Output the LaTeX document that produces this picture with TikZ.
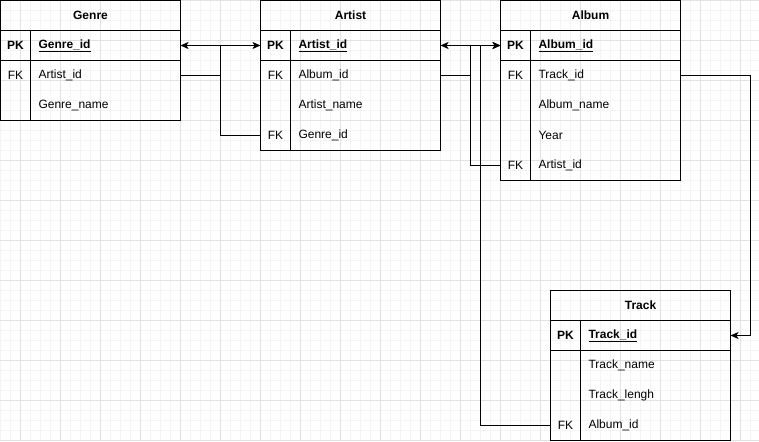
\documentclass[tikz,border=0pt]{standalone}
\usepackage{fontspec}
\setmainfont{Liberation Sans}
\usepackage{xcolor}
\usetikzlibrary{arrows.meta}

\definecolor{gridmajor}{HTML}{E2E2E2}
\definecolor{gridminor}{HTML}{F4F4F4}

\begin{document}
\begin{tikzpicture}[x=1pt,y=-1pt,
    minorgrid/.style={gridminor,line width=1pt},
    majorgrid/.style={gridmajor,line width=1pt},
    tbl/.style={line width=1pt},
    hdr/.style={draw,line width=1pt,anchor=north west,minimum width=180pt,minimum height=30pt,inner sep=0pt,outer sep=0pt,font=\fontsize{12}{14}\selectfont\bfseries},
    keycol/.style={anchor=north west,minimum width=30pt,minimum height=30pt,inner sep=0pt,outer sep=0pt,font=\fontsize{12}{14}\selectfont},
    fld/.style={anchor=north west,minimum height=30pt,text width=134pt,inner xsep=8pt,inner ysep=0pt,outer sep=0pt,align=left,font=\fontsize{12}{14}\selectfont},
    link/.style={line width=1pt,-{Stealth[length=8pt,width=7pt,inset=2pt]}}]
    \useasboundingbox (0,0) rectangle (759,441);
    % background grid
    \foreach \gx in {0,10,...,750} \draw[minorgrid] (\gx+0.5,0) -- (\gx+0.5,441);
    \foreach \gy in {0,10,...,440} \draw[minorgrid] (0,\gy+0.5) -- (759,\gy+0.5);
    \foreach \gx in {20,60,...,740} \draw[majorgrid] (\gx+0.5,0) -- (\gx+0.5,441);
    \foreach \gy in {0,40,...,440} \draw[majorgrid] (0,\gy+0.5) -- (759,\gy+0.5);

    \begin{scope}[shift={(0.5,0.5)}]
    % Genre
    \node[hdr] (genre) at (0,0) {Genre};
    \node[keycol] (g-id-k) at (0,30) {\bfseries PK};
    \node[fld] (g-id) at (30,30) {\bfseries\underline{Genre\_id}};
    \node[keycol] (g-artist-k) at (0,60) {FK};
    \node[fld] (g-artist) at (30,60) {Artist\_id};
    \node[keycol] (g-name-k) at (0,90) {};
    \node[fld] (g-name) at (30,90) {Genre\_name};
    \draw[tbl] (genre.south west) rectangle (g-name.south east);
    \draw[tbl] (g-id-k.south west) -- (g-id.south east);
    \draw[tbl] (g-id-k.north east) -- (g-name-k.south east);

    % Artist
    \node[hdr] (artist) at (260,0) {Artist};
    \node[keycol] (ar-id-k) at (260,30) {\bfseries PK};
    \node[fld] (ar-id) at (290,30) {\bfseries\underline{Artist\_id}};
    \node[keycol] (ar-album-k) at (260,60) {FK};
    \node[fld] (ar-album) at (290,60) {Album\_id};
    \node[keycol] (ar-name-k) at (260,90) {};
    \node[fld] (ar-name) at (290,90) {Artist\_name};
    \node[keycol] (ar-genre-k) at (260,120) {FK};
    \node[fld] (ar-genre) at (290,120) {Genre\_id};
    \draw[tbl] (artist.south west) rectangle (ar-genre.south east);
    \draw[tbl] (ar-id-k.south west) -- (ar-id.south east);
    \draw[tbl] (ar-id-k.north east) -- (ar-genre-k.south east);

    % Album
    \node[hdr] (album) at (500,0) {Album};
    \node[keycol] (al-id-k) at (500,30) {\bfseries PK};
    \node[fld] (al-id) at (530,30) {\bfseries\underline{Album\_id}};
    \node[keycol] (al-track-k) at (500,60) {FK};
    \node[fld] (al-track) at (530,60) {Track\_id};
    \node[keycol] (al-name-k) at (500,90) {};
    \node[fld] (al-name) at (530,90) {Album\_name};
    \node[keycol] (al-year-k) at (500,120) {};
    \node[fld] (al-year) at (530,120) {Year};
    \node[keycol] (al-artist-k) at (500,150) {FK};
    \node[fld] (al-artist) at (530,150) {Artist\_id};
    \draw[tbl] (album.south west) rectangle (al-artist.south east);
    \draw[tbl] (al-id-k.south west) -- (al-id.south east);
    \draw[tbl] (al-id-k.north east) -- (al-artist-k.south east);

    % Track
    \node[hdr] (track) at (550,290) {Track};
    \node[keycol] (t-id-k) at (550,320) {\bfseries PK};
    \node[fld] (t-id) at (580,320) {\bfseries\underline{Track\_id}};
    \node[keycol] (t-name-k) at (550,350) {};
    \node[fld] (t-name) at (580,350) {Track\_name};
    \node[keycol] (t-len-k) at (550,380) {};
    \node[fld] (t-len) at (580,380) {Track\_lengh};
    \node[keycol] (t-album-k) at (550,410) {FK};
    \node[fld] (t-album) at (580,410) {Album\_id};
    \draw[tbl] (track.south west) rectangle (t-album.south east);
    \draw[tbl] (t-id-k.south west) -- (t-id.south east);
    \draw[tbl] (t-id-k.north east) -- (t-album-k.south east);

    % links
    \coordinate (gaJ) at (220,45);
    \coordinate (aaJ) at (470,45);
    \coordinate (taJ) at (480,45);
    \coordinate (atJ) at (750,75);
    \draw[link] (g-artist.east) -| (gaJ) -- (ar-id-k.west);
    \draw[link] (ar-genre-k.west) -| (gaJ) -- (g-id.east);
    \draw[link] (ar-album.east) -| (aaJ) -- (al-id-k.west);
    \draw[link] (al-artist-k.west) -| (aaJ) -- (ar-id.east);
    \draw[link] (t-album-k.west) -| (taJ) -- (al-id-k.west);
    \draw[link] (al-track.east) -- (atJ) |- (t-id.east);
    \end{scope}
\end{tikzpicture}
\end{document}
